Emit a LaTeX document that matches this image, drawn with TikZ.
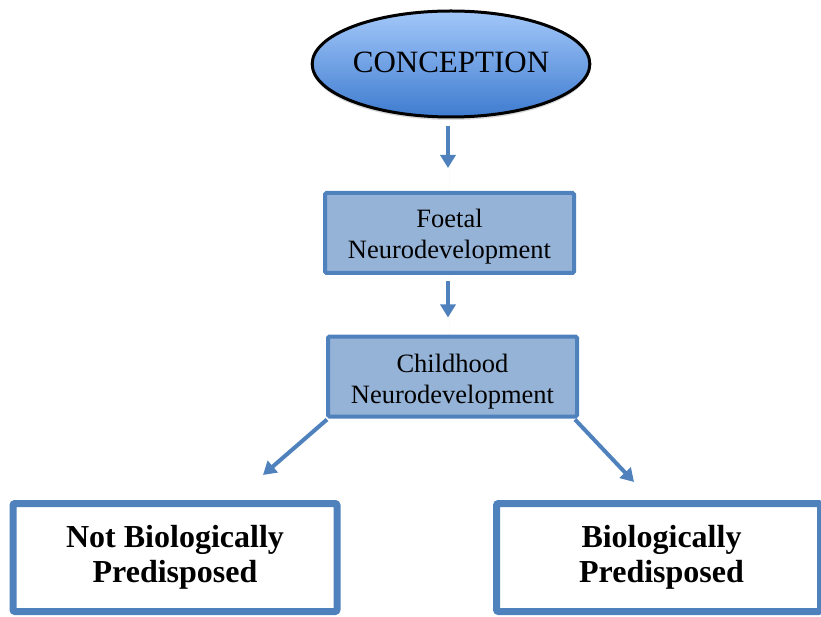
\documentclass[tikz,border=0pt]{standalone}
\usepackage{fontspec}
\setmainfont{Liberation Serif}
\usetikzlibrary{shapes.geometric,arrows.meta,shadows}
\definecolor{bline}{HTML}{4F81BD}
\definecolor{bfill}{HTML}{95B3D7}
\definecolor{etop}{HTML}{A3C8FA}
\definecolor{ebot}{HTML}{3E7BCF}
\newcommand{\lowtwo}[3]{\raisebox{-#1}[\height][\depth]{\begin{tabular}{@{}c@{}}#2\\#3\end{tabular}}}
\tikzset{
  stagebox/.style={draw=bline, line width=4pt, fill=bfill, rounded corners=1.5pt,
    minimum width=249pt, minimum height=80pt, align=center,
    font=\fontsize{26.5}{31}\selectfont, inner sep=0pt},
  outbox/.style={draw=bline, line width=7pt, fill=white, rounded corners=2pt,
    minimum width=324pt, minimum height=108pt, align=center,
    font=\fontsize{32}{35}\selectfont\bfseries, inner sep=0pt},
  flow/.style={draw=bline, line width=4pt, -{Triangle[length=13pt,width=15pt]},
    drop shadow={opacity=0.25, shadow xshift=1.5pt, shadow yshift=-1.5pt}},
}
\begin{document}
\begin{tikzpicture}[x=1pt,y=-1pt]
\useasboundingbox (0,0) rectangle (821,617);
\node[ellipse, draw=black, line width=3pt, top color=etop, bottom color=ebot,
  minimum width=272pt, minimum height=106pt, inner sep=0pt,
  font=\fontsize{31}{36}\selectfont,
  drop shadow={opacity=0.3, shadow xshift=0pt, shadow yshift=-3pt}]
  (conc) at (451,64) {\raisebox{1.5pt}[\height][\depth]{CONCEPTION}};
\node[stagebox] (foetal) at (449.5,233) {\lowtwo{4pt}{Foetal}{Neurodevelopment}};
\node[stagebox] (child) at (452.5,376.5) {\lowtwo{5pt}{Childhood}{Neurodevelopment}};
\node[outbox] (notbio) at (175,557.5) {Not Biologically\\Predisposed};
\node[outbox] (bio) at (658.5,557.5) {\hspace*{6pt}Biologically\\\hspace*{6pt}Predisposed};
\coordinate (ltip) at (263,475);
\coordinate (rtip) at (634,482);
\draw[flow, shorten <=8pt, shorten >=23pt] (conc.south -| 448,0) -- (foetal.north -| 448,0);
\draw[flow, shorten <=6pt, shorten >=17pt] (foetal.south -| 448,0) -- (child.north -| 448,0);
\draw[flow] ([xshift=1pt,yshift=-1pt]child.south west) -- (ltip);
\draw[flow] ([xshift=-4pt,yshift=-1pt]child.south east) -- (rtip);
\end{tikzpicture}
\end{document}
